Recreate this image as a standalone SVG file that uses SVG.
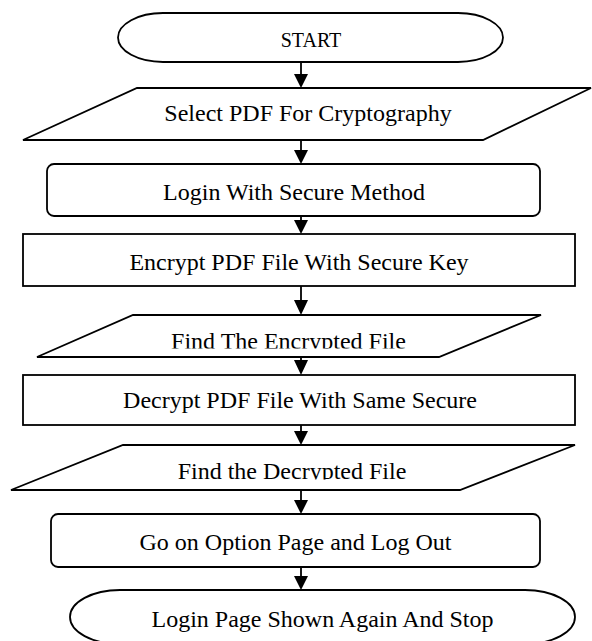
<svg xmlns="http://www.w3.org/2000/svg" width="592" height="641" viewBox="0 0 592 641">
<style>
.s{fill:#fff;stroke:#000;stroke-width:1.8;stroke-linejoin:miter}
.t{font-family:"Liberation Serif","Times New Roman",serif;font-size:24px;fill:#000;text-anchor:middle}
.c line{stroke:#000;stroke-width:1.8}
.c polygon{fill:#000}
</style>
<defs>
<clipPath id="cp2"><rect x="0" y="300" width="592" height="48.5"/></clipPath>
<clipPath id="cp3"><rect x="0" y="440" width="592" height="39.5"/></clipPath>
</defs>
<rect width="592" height="641" fill="#fff"/>
<g id="connectors" class="c">
<line x1="301" y1="62" x2="301" y2="76"/><polygon points="294,74 308,74 301,88"/>
<line x1="301" y1="140" x2="301" y2="152"/><polygon points="294,150 308,150 301,164"/>
<line x1="301" y1="216" x2="301" y2="222"/><polygon points="294,220 308,220 301,234"/>
<line x1="301" y1="286" x2="301" y2="303"/><polygon points="294,300 308,300 301,315"/>
<line x1="301" y1="357" x2="301" y2="362"/><polygon points="294,360 308,360 301,375"/>
<line x1="301" y1="425" x2="301" y2="433"/><polygon points="294,431 308,431 301,445"/>
<line x1="301" y1="490" x2="301" y2="502"/><polygon points="294,500 308,500 301,514"/>
<line x1="301" y1="567" x2="301" y2="578"/><polygon points="294,576 308,576 301,590"/>
</g>
<g id="start">
<path class="s" d="M163 13H458A45 24.5 0 0 1 458 62H163A45 24.5 0 0 1 163 13Z"/>
<text class="t" x="311" y="47" style="font-size:20px">START</text>
</g>
<g id="select">
<polygon class="s" points="137,88 591,88 483,140 23,140"/>
<text class="t" x="308" y="121">Select PDF For Cryptography</text>
</g>
<g id="login">
<rect class="s" x="47" y="164" width="493" height="52" rx="7"/>
<text class="t" x="294" y="200">Login With Secure Method</text>
</g>
<g id="encrypt">
<rect class="s" x="23" y="234" width="552" height="52"/>
<text class="t" x="299" y="270">Encrypt PDF File With Secure Key</text>
</g>
<g id="find-encrypted">
<polygon class="s" points="133,315 541,315 439,357 37,357"/>
<text class="t" x="288.5" y="349" clip-path="url(#cp2)">Find The Encrypted File</text>
</g>
<g id="decrypt">
<rect class="s" x="23" y="375" width="552" height="50"/>
<text class="t" x="300" y="408">Decrypt PDF File With Same Secure</text>
</g>
<g id="find-decrypted">
<polygon class="s" points="123,445 575,445 460,490 11,490"/>
<text class="t" x="292" y="479" clip-path="url(#cp3)">Find the Decrypted File</text>
</g>
<g id="logout">
<rect class="s" x="51" y="514" width="489" height="53" rx="7"/>
<text class="t" x="295.5" y="550">Go on Option Page and Log Out</text>
</g>
<g id="stop">
<path class="s" d="M120 590H525A50 27 0 0 1 525 644H120A50 27 0 0 1 120 590Z"/>
<text class="t" x="322.5" y="627">Login Page Shown Again And Stop</text>
</g>
</svg>
